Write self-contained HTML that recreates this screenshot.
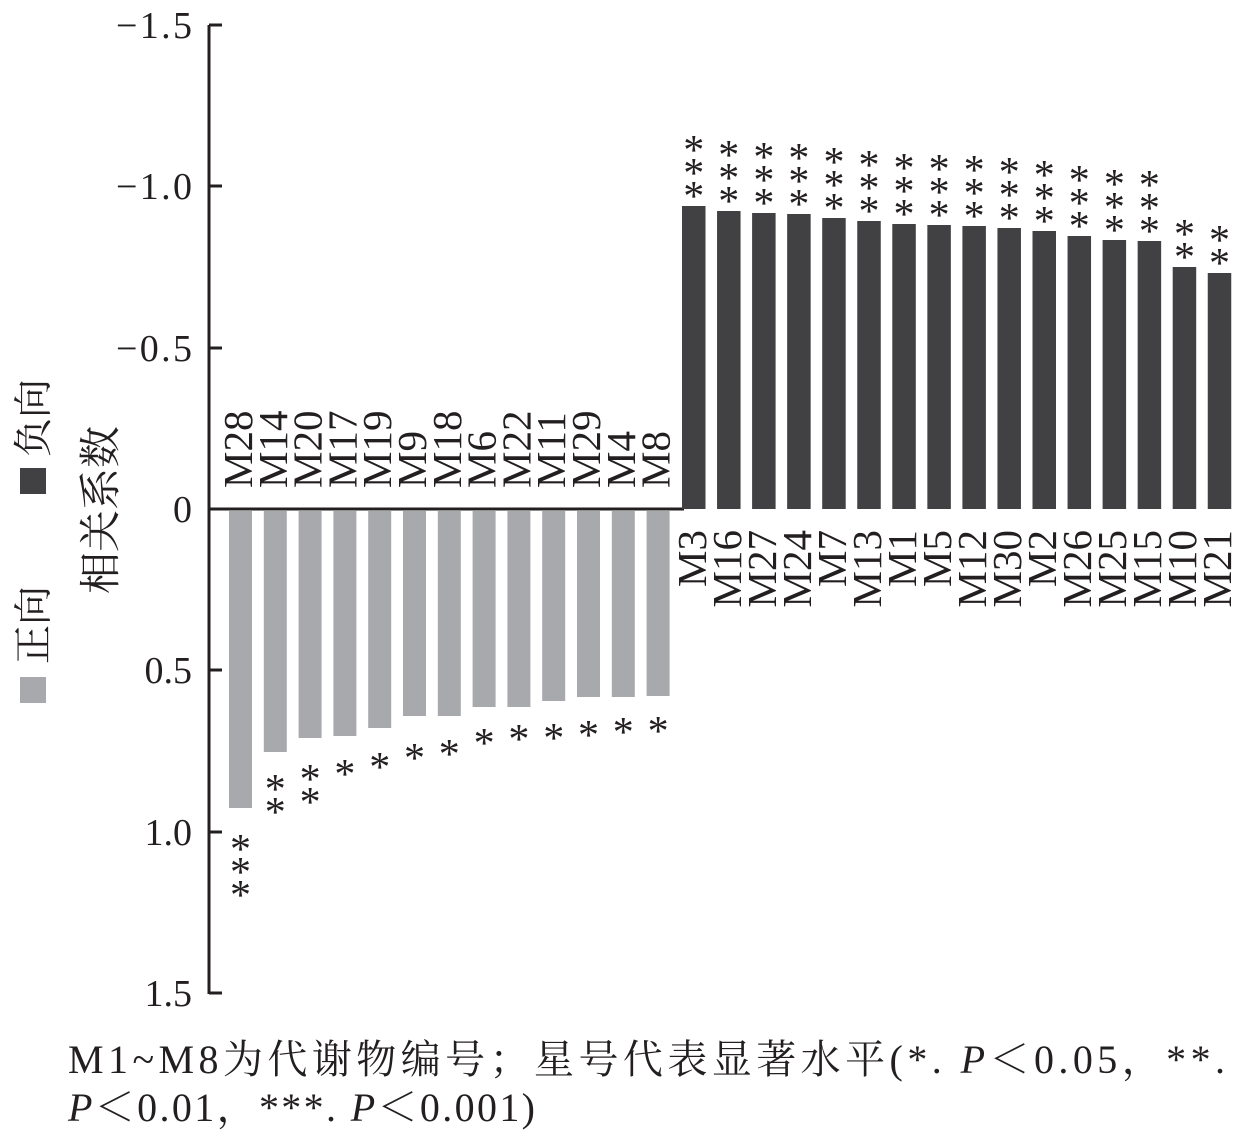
<!DOCTYPE html>
<html><head><meta charset="utf-8"><style>
html,body{margin:0;padding:0;background:#fff;}
svg{display:block;font-family:"Liberation Serif","Noto Serif CJK SC",serif;}
</style></head><body>
<svg width="1260" height="1144" viewBox="0 0 1260 1144" xmlns="http://www.w3.org/2000/svg" fill="#231f20">
<g stroke="#231f20" stroke-width="3">
<line x1="209" y1="25" x2="209" y2="994"/>
<line x1="209" y1="509" x2="684" y2="509"/>
<line x1="209" y1="25" x2="222" y2="25"/>
<line x1="209" y1="186" x2="222" y2="186"/>
<line x1="209" y1="348" x2="222" y2="348"/>
<line x1="209" y1="670" x2="222" y2="670"/>
<line x1="209" y1="832" x2="222" y2="832"/>
<line x1="209" y1="993" x2="222" y2="993"/>
</g>
<g font-size="38" text-anchor="end">
<text x="192" y="38" textLength="76">−1.5</text>
<text x="192" y="199" textLength="76">−1.0</text>
<text x="192" y="361" textLength="76">−0.5</text>
<text x="192" y="522">0</text>
<text x="192" y="683">0.5</text>
<text x="192" y="845">1.0</text>
<text x="192" y="1006">1.5</text>
</g>
<g fill="#a7a9ac">
<rect x="229" y="511" width="23" height="297"/>
<rect x="263.8" y="511" width="23" height="241"/>
<rect x="298.6" y="511" width="23" height="227"/>
<rect x="333.4" y="511" width="23" height="225"/>
<rect x="368.2" y="511" width="23" height="217"/>
<rect x="403" y="511" width="23" height="205"/>
<rect x="437.8" y="511" width="23" height="205"/>
<rect x="472.6" y="511" width="23" height="196"/>
<rect x="507.4" y="511" width="23" height="196"/>
<rect x="542.2" y="511" width="23" height="190"/>
<rect x="577" y="511" width="23" height="186"/>
<rect x="611.8" y="511" width="23" height="186"/>
<rect x="646.6" y="511" width="23" height="185"/>
</g>
<g font-size="41">
<text transform="translate(252,488) rotate(-90)">M28</text>
<text transform="translate(286.8,488) rotate(-90)">M14</text>
<text transform="translate(321.6,488) rotate(-90)">M20</text>
<text transform="translate(356.4,488) rotate(-90)">M17</text>
<text transform="translate(391.2,488) rotate(-90)">M19</text>
<text transform="translate(426,488) rotate(-90)">M9</text>
<text transform="translate(460.8,488) rotate(-90)">M18</text>
<text transform="translate(495.6,488) rotate(-90)">M6</text>
<text transform="translate(530.4,488) rotate(-90)">M22</text>
<text transform="translate(565.2,488) rotate(-90)">M11</text>
<text transform="translate(600,488) rotate(-90)">M29</text>
<text transform="translate(634.8,488) rotate(-90)">M4</text>
<text transform="translate(669.6,488) rotate(-90)">M8</text>
</g>
<g font-size="42" text-anchor="middle">
<text x="240.5" y="863">*</text><text x="240.5" y="886">*</text><text x="240.5" y="909">*</text>
<text x="275.3" y="803">*</text><text x="275.3" y="826">*</text>
<text x="310.1" y="793">*</text><text x="310.1" y="816">*</text>
<text x="344.9" y="788">*</text>
<text x="379.7" y="781">*</text>
<text x="414.5" y="772">*</text>
<text x="449.3" y="768">*</text>
<text x="484.1" y="757">*</text>
<text x="518.9" y="753">*</text>
<text x="553.7" y="752">*</text>
<text x="588.5" y="749">*</text>
<text x="623.3" y="746">*</text>
<text x="658.1" y="745">*</text>
</g>
<g fill="#414042">
<rect x="682" y="206" width="23.5" height="303"/>
<rect x="717.05" y="211" width="23.5" height="298"/>
<rect x="752.1" y="213" width="23.5" height="296"/>
<rect x="787.15" y="214" width="23.5" height="295"/>
<rect x="822.2" y="218" width="23.5" height="291"/>
<rect x="857.25" y="221" width="23.5" height="288"/>
<rect x="892.3" y="224" width="23.5" height="285"/>
<rect x="927.35" y="225" width="23.5" height="284"/>
<rect x="962.4" y="226" width="23.5" height="283"/>
<rect x="997.45" y="228" width="23.5" height="281"/>
<rect x="1032.5" y="231" width="23.5" height="278"/>
<rect x="1067.55" y="236" width="23.5" height="273"/>
<rect x="1102.6" y="240" width="23.5" height="269"/>
<rect x="1137.65" y="241" width="23.5" height="268"/>
<rect x="1172.7" y="267" width="23.5" height="242"/>
<rect x="1207.75" y="273" width="23.5" height="236"/>
</g>
<g font-size="41" text-anchor="end">
<text transform="translate(706,530) rotate(-90)">M3</text>
<text transform="translate(741,530) rotate(-90)">M16</text>
<text transform="translate(776,530) rotate(-90)">M27</text>
<text transform="translate(811,530) rotate(-90)">M24</text>
<text transform="translate(846,530) rotate(-90)">M7</text>
<text transform="translate(881,530) rotate(-90)">M13</text>
<text transform="translate(916,530) rotate(-90)">M1</text>
<text transform="translate(951,530) rotate(-90)">M5</text>
<text transform="translate(986,530) rotate(-90)">M12</text>
<text transform="translate(1021,530) rotate(-90)">M30</text>
<text transform="translate(1056,530) rotate(-90)">M2</text>
<text transform="translate(1091,530) rotate(-90)">M26</text>
<text transform="translate(1126,530) rotate(-90)">M25</text>
<text transform="translate(1161,530) rotate(-90)">M15</text>
<text transform="translate(1196,530) rotate(-90)">M10</text>
<text transform="translate(1231,530) rotate(-90)">M21</text>
</g>
<g font-size="42" text-anchor="middle">
<text x="693.75" y="210">*</text><text x="693.75" y="187">*</text><text x="693.75" y="164">*</text>
<text x="728.8" y="215">*</text><text x="728.8" y="192">*</text><text x="728.8" y="169">*</text>
<text x="763.85" y="217">*</text><text x="763.85" y="194">*</text><text x="763.85" y="171">*</text>
<text x="798.9" y="218">*</text><text x="798.9" y="195">*</text><text x="798.9" y="172">*</text>
<text x="833.95" y="222">*</text><text x="833.95" y="199">*</text><text x="833.95" y="176">*</text>
<text x="869" y="225">*</text><text x="869" y="202">*</text><text x="869" y="179">*</text>
<text x="904.05" y="228">*</text><text x="904.05" y="205">*</text><text x="904.05" y="182">*</text>
<text x="939.1" y="229">*</text><text x="939.1" y="206">*</text><text x="939.1" y="183">*</text>
<text x="974.15" y="230">*</text><text x="974.15" y="207">*</text><text x="974.15" y="184">*</text>
<text x="1009.2" y="232">*</text><text x="1009.2" y="209">*</text><text x="1009.2" y="186">*</text>
<text x="1044.25" y="235">*</text><text x="1044.25" y="212">*</text><text x="1044.25" y="189">*</text>
<text x="1079.3" y="240">*</text><text x="1079.3" y="217">*</text><text x="1079.3" y="194">*</text>
<text x="1114.35" y="244">*</text><text x="1114.35" y="221">*</text><text x="1114.35" y="198">*</text>
<text x="1149.4" y="245">*</text><text x="1149.4" y="222">*</text><text x="1149.4" y="199">*</text>
<text x="1184.45" y="271">*</text><text x="1184.45" y="248">*</text>
<text x="1219.5" y="277">*</text><text x="1219.5" y="254">*</text>
</g>
<rect x="20" y="468" width="26" height="26" fill="#414042"/>
<text font-size="39" transform="translate(47,457) rotate(-90)">负向</text>
<rect x="20" y="677" width="26" height="26" fill="#a7a9ac"/>
<text font-size="39" transform="translate(47,664) rotate(-90)">正向</text>
<text font-size="42" text-anchor="middle" transform="translate(115,510) rotate(-90)">相关系数</text>
<text x="68" y="1073" font-size="40" textLength="1157">M1~M8为代谢物编号；星号代表显著水平(*. <tspan font-style="italic">P</tspan>＜0.05，**.</text>
<text x="68" y="1121" font-size="40" textLength="467"><tspan font-style="italic">P</tspan>＜0.01，***. <tspan font-style="italic">P</tspan>＜0.001)</text>
</svg>
</body></html>
